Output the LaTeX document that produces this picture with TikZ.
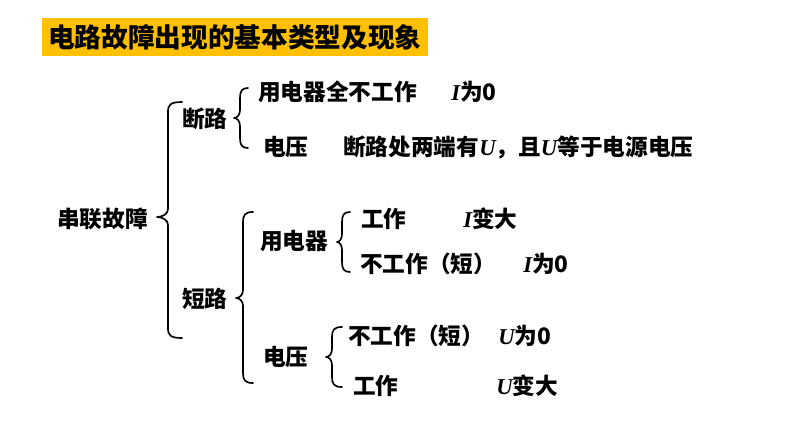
\documentclass[tikz,border=0pt]{standalone}
\usepackage{fontspec}
\newfontfamily\cjk{Noto Sans CJK SC}
\newfontfamily\lat{Liberation Serif}
\newcommand\vi[1]{{\lat\bfseries\itshape #1}}
\definecolor{titlebg}{HTML}{FFC000}
\newcommand\cbr[6]{%
  \draw[bracestyle] (#1+#6,#2) .. controls (#1+2,#2) and (#1,#2+3) .. (#1,#2+10)
    -- (#1,#3-8) .. controls (#1,#3-3) and (#1-#5*0.5,#3) .. (#1-#5,#3)
    .. controls (#1-#5*0.5,#3) and (#1,#3+3) .. (#1,#3+8)
    -- (#1,#4-10) .. controls (#1,#4-3) and (#1+2,#4) .. (#1+#6,#4);}
\tikzset{
  bracestyle/.style={line width=1.25pt, line cap=round, line join=round, black},
  txt/.style={anchor=west, inner sep=0pt, font=\cjk\bfseries\fontsize{17pt}{19pt}\selectfont},
  titlebox/.style={fill=titlebg, inner sep=0pt, minimum width=289.5pt, minimum height=28.5pt,
    font=\cjk\bfseries\fontsize{20pt}{24pt}\selectfont}
}
\begin{document}
\begin{tikzpicture}[x=0.75pt,y=-0.75pt]
\useasboundingbox (0,0) rectangle (794,447);
\node[titlebox] (title) at (235,37) {电路故障出现的基本类型及现象};
% labels
\node[txt] (chuanlian) at (57,219) {串联故障};
\node[txt] (duanlu) at (182,119) {断路};
\node[txt] (dl1) at (258,92) {用电器全不工作};
\node[txt] (dl1v) at (451,92) {\vi{I}为0};
\node[txt] (dl2) at (263,147) {电压};
\node[txt] (dl2v) at (343,147) {断路处两端有\vi{U}，且\vi{U}等于电源电压};
\node[txt] (duanlu2) at (182,299) {短路};
\node[txt] (ydq) at (260,241) {用电器};
\node[txt] (w1) at (361,219) {工作};
\node[txt] (w1v) at (463,219) {\vi{I}变大};
\node[txt] (nw1) at (360,264) {不工作（短）};
\node[txt] (nw1v) at (523,264) {\vi{I}为0};
\node[txt] (dy) at (263,357) {电压};
\node[txt] (nw2) at (348,336) {不工作（短）};
\node[txt] (nw2v) at (498,336) {\vi{U}为0};
\node[txt] (w2) at (353,386) {工作};
\node[txt] (w2v) at (496,386) {\vi{U}变大};
% braces
\cbr{168}{102}{217}{338}{11}{14}
\cbr{240}{88}{118}{148}{6}{8}
\cbr{243}{212}{298}{383}{7}{10}
\cbr{342}{212}{242}{272}{5}{8}
\cbr{332}{327}{357}{387}{6}{10}
\end{tikzpicture}
\end{document}
